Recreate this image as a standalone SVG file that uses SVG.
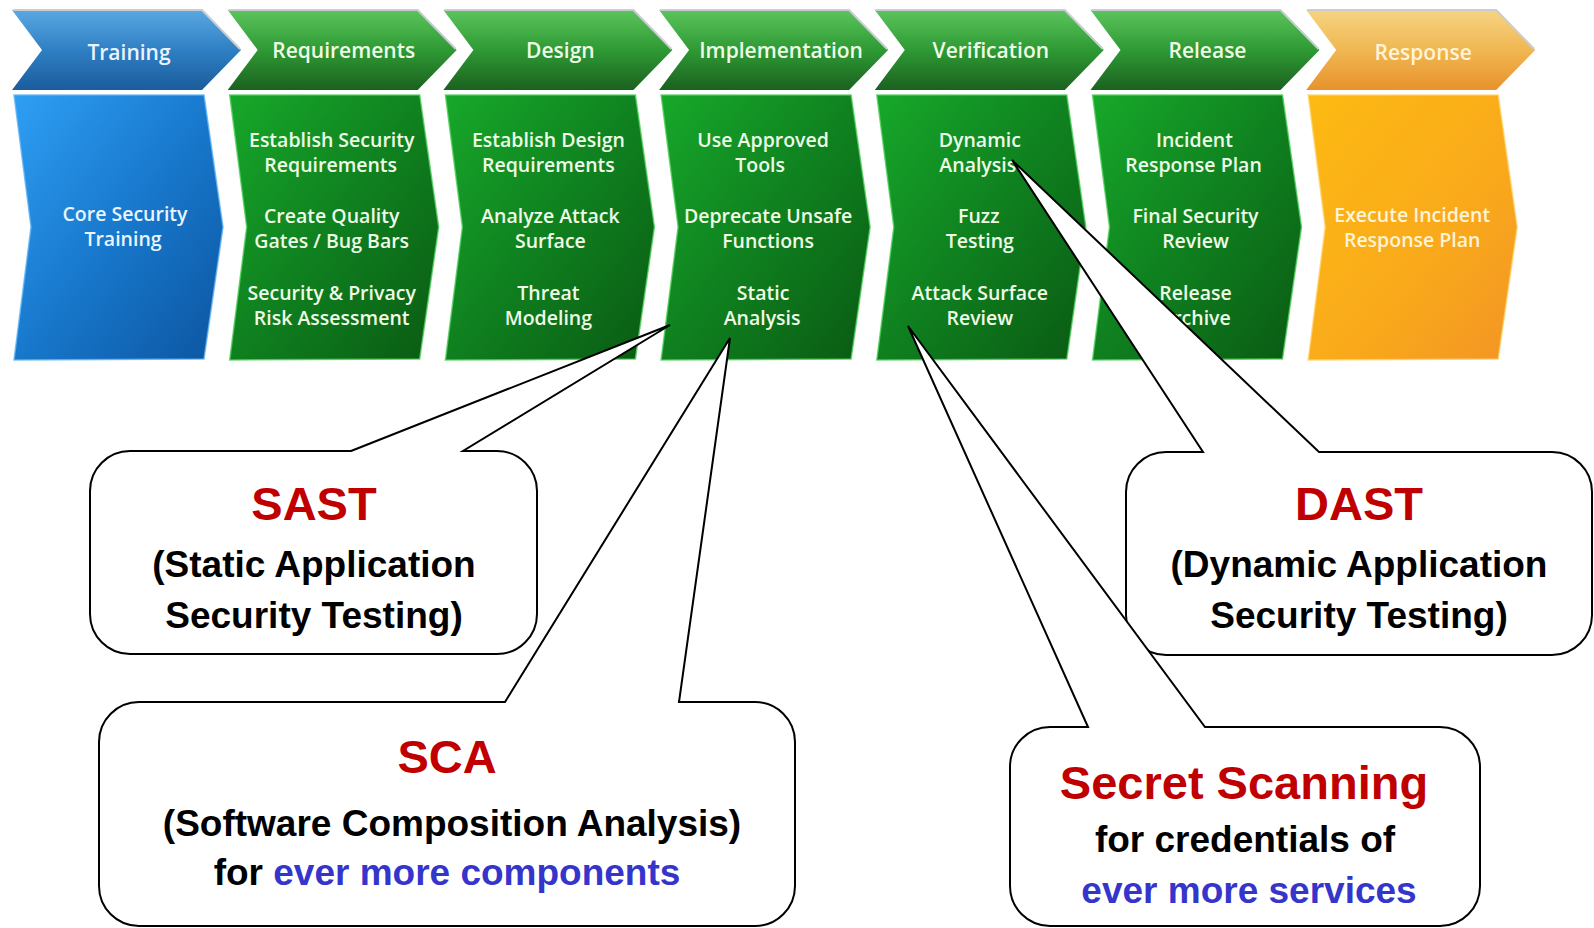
<svg xmlns="http://www.w3.org/2000/svg" width="1594" height="928" viewBox="0 0 1594 928">
  <defs>
    <linearGradient id="hdrGreen" x1="0" y1="0" x2="0" y2="1">
      <stop offset="0" stop-color="#5cc45c"/>
      <stop offset="0.5" stop-color="#2e9a34"/>
      <stop offset="1" stop-color="#1b6120"/>
    </linearGradient>
    <linearGradient id="hdrBlue" x1="0" y1="0" x2="0" y2="1">
      <stop offset="0" stop-color="#5aa8e2"/>
      <stop offset="0.5" stop-color="#2f7fc4"/>
      <stop offset="1" stop-color="#1b5c9c"/>
    </linearGradient>
    <linearGradient id="hdrOrange" x1="0" y1="0" x2="0" y2="1">
      <stop offset="0" stop-color="#f6d482"/>
      <stop offset="0.5" stop-color="#f0b752"/>
      <stop offset="1" stop-color="#e8922c"/>
    </linearGradient>
    <linearGradient id="bodyGreen" x1="0" y1="0" x2="1" y2="1">
      <stop offset="0" stop-color="#17a82a"/>
      <stop offset="0.5" stop-color="#0f801f"/>
      <stop offset="1" stop-color="#0a5a13"/>
    </linearGradient>
    <linearGradient id="bodyBlue" x1="0" y1="0" x2="1" y2="1">
      <stop offset="0" stop-color="#2e9ff4"/>
      <stop offset="0.5" stop-color="#1878cc"/>
      <stop offset="1" stop-color="#0c55a0"/>
    </linearGradient>
    <linearGradient id="bodyOrange" x1="0" y1="0" x2="1" y2="1">
      <stop offset="0" stop-color="#fdba12"/>
      <stop offset="0.6" stop-color="#f9a91b"/>
      <stop offset="1" stop-color="#f39425"/>
    </linearGradient>
    <!-- phase header arrow and body panel, positioned by translate -->
    <path id="hdr" d="M0,10 L190,10 L229,50 L190,90 L0,90 L30,50 Z"/>
    <path id="body" d="M2,95 L192,95 L211,227 L192,359 L2,360 L19,227 Z"/>
  </defs>
  <style>
    .hdr-line { fill: none; stroke: #c9cdd2; stroke-width: 2; }
    .body-edge { stroke-width: 1.5; stroke-opacity: 0.8; }
    .ht { font-family: "Open Sans", "Noto Sans", sans-serif; font-size: 21px; font-weight: 600; text-anchor: middle; }
    .bt { font-family: "Open Sans", "Noto Sans", sans-serif; font-size: 19.5px; font-weight: 600; text-anchor: middle; }
    .g { fill: #eefbe6; }
    .b { fill: #e9f4ff; }
    .o { fill: #fff3d8; }
    .callout { fill: #ffffff; stroke: #000000; stroke-width: 2; stroke-linejoin: miter; }
    .ct { font-family: "Liberation Sans", Arial, sans-serif; font-weight: bold; text-anchor: middle; }
    .title { font-size: 47px; fill: #c00000; }
    .sub { font-size: 37px; fill: #000000; }
    .blue { fill: #3535cc; }
  </style>

  <rect width="1594" height="928" fill="#ffffff"/>

  <!-- SDL phases -->
  <g id="phase-training" transform="translate(12,0)">
    <use href="#hdr" fill="url(#hdrBlue)"/>
    <path class="hdr-line" d="M1,10 L190,10 L228,49"/>
    <use href="#body" fill="url(#bodyBlue)" class="body-edge" stroke="#5fb4f5"/>
    <text class="ht b" x="117" y="60">Training</text>
    <text class="bt b" x="113" y="221">Core Security</text>
    <text class="bt b" x="111" y="246">Training</text>
  </g>

  <g id="phase-requirements" transform="translate(227.7,0)">
    <use href="#hdr" fill="url(#hdrGreen)"/>
    <path class="hdr-line" d="M1,10 L190,10 L228,49"/>
    <use href="#body" fill="url(#bodyGreen)" class="body-edge" stroke="#4fd05a"/>
    <text class="ht g" x="116" y="58">Requirements</text>
    <text class="bt g" x="104" y="147">Establish Security</text>
    <text class="bt g" x="103" y="172">Requirements</text>
    <text class="bt g" x="104" y="223">Create Quality</text>
    <text class="bt g" x="104" y="248">Gates / Bug Bars</text>
    <text class="bt g" x="104" y="300">Security &amp; Privacy</text>
    <text class="bt g" x="104" y="325">Risk Assessment</text>
  </g>

  <g id="phase-design" transform="translate(443.4,0)">
    <use href="#hdr" fill="url(#hdrGreen)"/>
    <path class="hdr-line" d="M1,10 L190,10 L228,49"/>
    <use href="#body" fill="url(#bodyGreen)" class="body-edge" stroke="#4fd05a"/>
    <text class="ht g" x="117" y="58">Design</text>
    <text class="bt g" x="105" y="147">Establish Design</text>
    <text class="bt g" x="105" y="172">Requirements</text>
    <text class="bt g" x="107" y="223">Analyze Attack</text>
    <text class="bt g" x="107" y="248">Surface</text>
    <text class="bt g" x="105" y="300">Threat</text>
    <text class="bt g" x="105" y="325">Modeling</text>
  </g>

  <g id="phase-implementation" transform="translate(659.1,0)">
    <use href="#hdr" fill="url(#hdrGreen)"/>
    <path class="hdr-line" d="M1,10 L190,10 L228,49"/>
    <use href="#body" fill="url(#bodyGreen)" class="body-edge" stroke="#4fd05a"/>
    <text class="ht g" x="122" y="58">Implementation</text>
    <text class="bt g" x="104" y="147">Use Approved</text>
    <text class="bt g" x="101" y="172">Tools</text>
    <text class="bt g" x="109" y="223">Deprecate Unsafe</text>
    <text class="bt g" x="109" y="248">Functions</text>
    <text class="bt g" x="104" y="300">Static</text>
    <text class="bt g" x="103" y="325">Analysis</text>
  </g>

  <g id="phase-verification" transform="translate(874.8,0)">
    <use href="#hdr" fill="url(#hdrGreen)"/>
    <path class="hdr-line" d="M1,10 L190,10 L228,49"/>
    <use href="#body" fill="url(#bodyGreen)" class="body-edge" stroke="#4fd05a"/>
    <text class="ht g" x="116" y="58">Verification</text>
    <text class="bt g" x="105" y="147">Dynamic</text>
    <text class="bt g" x="103" y="172">Analysis</text>
    <text class="bt g" x="104" y="223">Fuzz</text>
    <text class="bt g" x="105" y="248">Testing</text>
    <text class="bt g" x="105" y="300">Attack Surface</text>
    <text class="bt g" x="105" y="325">Review</text>
  </g>

  <g id="phase-release" transform="translate(1090.5,0)">
    <use href="#hdr" fill="url(#hdrGreen)"/>
    <path class="hdr-line" d="M1,10 L190,10 L228,49"/>
    <use href="#body" fill="url(#bodyGreen)" class="body-edge" stroke="#4fd05a"/>
    <text class="ht g" x="117" y="58">Release</text>
    <text class="bt g" x="104" y="147">Incident</text>
    <text class="bt g" x="103" y="172">Response Plan</text>
    <text class="bt g" x="105" y="223">Final Security</text>
    <text class="bt g" x="105" y="248">Review</text>
    <text class="bt g" x="105" y="300">Release</text>
    <text class="bt g" x="105" y="325">Archive</text>
  </g>

  <g id="phase-response" transform="translate(1306.2,0)">
    <use href="#hdr" fill="url(#hdrOrange)"/>
    <path class="hdr-line" d="M1,10 L190,10 L228,49"/>
    <use href="#body" fill="url(#bodyOrange)" class="body-edge" stroke="#fcd36a"/>
    <text class="ht o" x="117" y="60">Response</text>
    <text class="bt o" x="106" y="222">Execute Incident</text>
    <text class="bt o" x="106" y="247">Response Plan</text>
  </g>

  <!-- speech-bubble callouts pointing at SDL activities -->
  <g id="connectors">
    <g id="callout-sast">
      <path class="callout" d="M351,451 L670,325 L463,451 L497,451 A40,40 0 0 1 537,491 L537,614 A40,40 0 0 1 497,654 L130,654 A40,40 0 0 1 90,614 L90,491 A40,40 0 0 1 130,451 Z"/>
      <text class="ct title" x="314" y="520">SAST</text>
      <text class="ct sub" x="314" y="577">(Static Application</text>
      <text class="ct sub" x="314" y="628">Security Testing)</text>
    </g>
    <g id="callout-sca">
      <path class="callout" d="M505,702 L730,338 L679,702 L755,702 A40,40 0 0 1 795,742 L795,886 A40,40 0 0 1 755,926 L139,926 A40,40 0 0 1 99,886 L99,742 A40,40 0 0 1 139,702 Z"/>
      <text class="ct title" x="447" y="773">SCA</text>
      <text class="ct sub" x="452" y="836">(Software Composition Analysis)</text>
      <text class="ct sub" x="447" y="885">for <tspan class="blue">ever more components</tspan></text>
    </g>
    <g id="callout-dast">
      <path class="callout" d="M1203,452 L1012,160 L1319,452 L1552,452 A40,40 0 0 1 1592,492 L1592,615 A40,40 0 0 1 1552,655 L1166,655 A40,40 0 0 1 1126,615 L1126,492 A40,40 0 0 1 1166,452 Z"/>
      <text class="ct title" x="1359" y="520">DAST</text>
      <text class="ct sub" x="1359" y="577">(Dynamic Application</text>
      <text class="ct sub" x="1359" y="628">Security Testing)</text>
    </g>
    <g id="callout-secrets">
      <path class="callout" d="M1088,727 L908,326 L1205,727 L1440,727 A40,40 0 0 1 1480,767 L1480,886 A40,40 0 0 1 1440,926 L1050,926 A40,40 0 0 1 1010,886 L1010,767 A40,40 0 0 1 1050,727 Z"/>
      <text class="ct title" x="1244" y="799" font-size="50">Secret Scanning</text>
      <text class="ct sub" x="1245" y="852" font-size="38">for credentials of</text>
      <text class="ct sub blue" x="1249" y="903" font-size="38">ever more services</text>
    </g>
  </g>
</svg>
